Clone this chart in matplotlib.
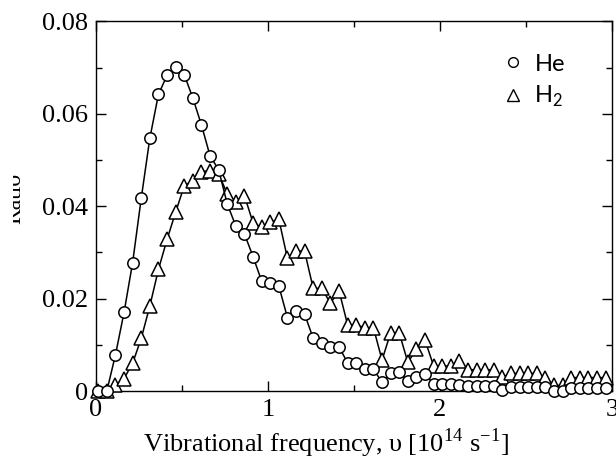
import matplotlib
matplotlib.use('Agg')
import matplotlib.pyplot as plt
from matplotlib.lines import Line2D
from matplotlib.patches import Rectangle

plt.rcParams['font.family'] = 'Liberation Serif'
plt.rcParams['mathtext.fontset'] = 'custom'
plt.rcParams['mathtext.rm'] = 'Liberation Serif'
plt.rcParams['mathtext.sf'] = 'Lato'

# frequency bins [10^14 s^-1]
freq = [0.013, 0.063, 0.113, 0.163, 0.213, 0.263, 0.313, 0.363, 0.413, 0.463,
        0.513, 0.563, 0.613, 0.663, 0.713, 0.763, 0.813, 0.863, 0.913, 0.963,
        1.013, 1.063, 1.113, 1.163, 1.213, 1.263, 1.313, 1.363, 1.413, 1.463,
        1.513, 1.563, 1.613, 1.663, 1.713, 1.763, 1.813, 1.863, 1.913, 1.963,
        2.013, 2.063, 2.113, 2.163, 2.213, 2.263, 2.313, 2.363, 2.413, 2.463,
        2.513, 2.563, 2.613, 2.663, 2.713, 2.763, 2.813, 2.863, 2.913, 2.963]

ratio_he = [0.0, 0.0, 0.0078, 0.0170, 0.0278, 0.0417, 0.0547, 0.0642, 0.0683, 0.0702,
            0.0685, 0.0634, 0.0576, 0.0509, 0.0479, 0.0405, 0.0357, 0.0340, 0.0291, 0.0238,
            0.0234, 0.0227, 0.0159, 0.0173, 0.0166, 0.0114, 0.0103, 0.0096, 0.0095, 0.0061,
            0.0061, 0.0047, 0.0047, 0.0019, 0.0039, 0.0041, 0.0021, 0.0031, 0.0037, 0.0015,
            0.0015, 0.0015, 0.0012, 0.0010, 0.0010, 0.0010, 0.0010, 0.0002, 0.0009, 0.0009,
            0.0009, 0.0009, 0.0008, 0.0000, 0.0000, 0.0006, 0.0006, 0.0006, 0.0006, 0.0006]

ratio_h2 = [0.0, 0.0, 0.0013, 0.0027, 0.0060, 0.0114, 0.0184, 0.0263, 0.0328, 0.0387,
            0.0444, 0.0455, 0.0475, 0.0477, 0.0470, 0.0427, 0.0410, 0.0423, 0.0364, 0.0354,
            0.0365, 0.0372, 0.0287, 0.0304, 0.0302, 0.0222, 0.0222, 0.0190, 0.0217, 0.0143,
            0.0143, 0.0137, 0.0137, 0.0067, 0.0126, 0.0126, 0.0062, 0.0090, 0.0110, 0.0054,
            0.0054, 0.0054, 0.0066, 0.0046, 0.0046, 0.0046, 0.0046, 0.0030, 0.0038, 0.0038,
            0.0038, 0.0038, 0.0029, 0.0012, 0.0012, 0.0029, 0.0029, 0.0029, 0.0029, 0.0029]

xticks = [0, 1, 2, 3]
xtick_labels = ['0', '1', '2', '3']
yticks = [0, 0.02, 0.04, 0.06, 0.08]
ytick_labels = ['0', '0.02', '0.04', '0.06', '0.08']

fig = plt.figure(figsize=(6.16, 4.59), dpi=100)
ax = fig.add_axes([96/616, 1 - 391/459, 516/616, 369.6/459])

ax.plot(freq, ratio_h2, '-', color='black', lw=1.1, marker='^', ms=9.5,
        mfc='white', mec='black', mew=1.1, clip_on=False, zorder=3)
ax.plot(freq, ratio_he, '-', color='black', lw=1.1, marker='o', ms=8.2,
        mfc='white', mec='black', mew=1.1, clip_on=False, zorder=4)

ax.set_xlim(0, 3)
ax.set_ylim(0, 0.08)
ax.set_xticks(xticks)
ax.set_xticklabels(xtick_labels)
ax.set_xticks([0.5, 1.5, 2.5], minor=True)
ax.set_yticks(yticks)
ax.set_yticklabels(ytick_labels)
ax.set_yticks([0.01, 0.03, 0.05, 0.07], minor=True)
ax.tick_params(which='both', direction='in', top=True, right=True, width=1.0,
               labelsize=19)
ax.tick_params(which='major', length=7.5, pad=6)
ax.tick_params(which='minor', length=4.5)
for s in ax.spines.values():
    s.set_linewidth(1.0)

ax.set_xlabel('Vibrational frequency, υ [10$^{14}$ s$^{-1}$]', fontsize=19, labelpad=4)
ax.xaxis.label.set_x((326 - 96) / 516)

# y label, partly cut at the left as in the source figure
ylab = fig.text(25/616, 1 - 198.5/459, 'Ratio', rotation=90, fontsize=17,
                ha='right', va='center')
clip = Rectangle((13/616, 0), 1, 1, transform=fig.transFigure, facecolor='none')
ylab.set_clip_path(clip)

handles = [Line2D([], [], ls='none', marker='o', ms=7, mfc='white', mec='black', mew=1.0),
           Line2D([], [], ls='none', marker='^', ms=8.5, mfc='white', mec='black', mew=1.0)]
ax.legend(handles, ['He', 'H$_\\mathsf{2}$'], loc='upper right', frameon=False,
          prop={'family': 'Lato', 'size': 17}, handlelength=0.8, handletextpad=0.5,
          labelspacing=0.4, bbox_to_anchor=(0.95, 0.97))

fig.savefig('out.png', dpi=100)
